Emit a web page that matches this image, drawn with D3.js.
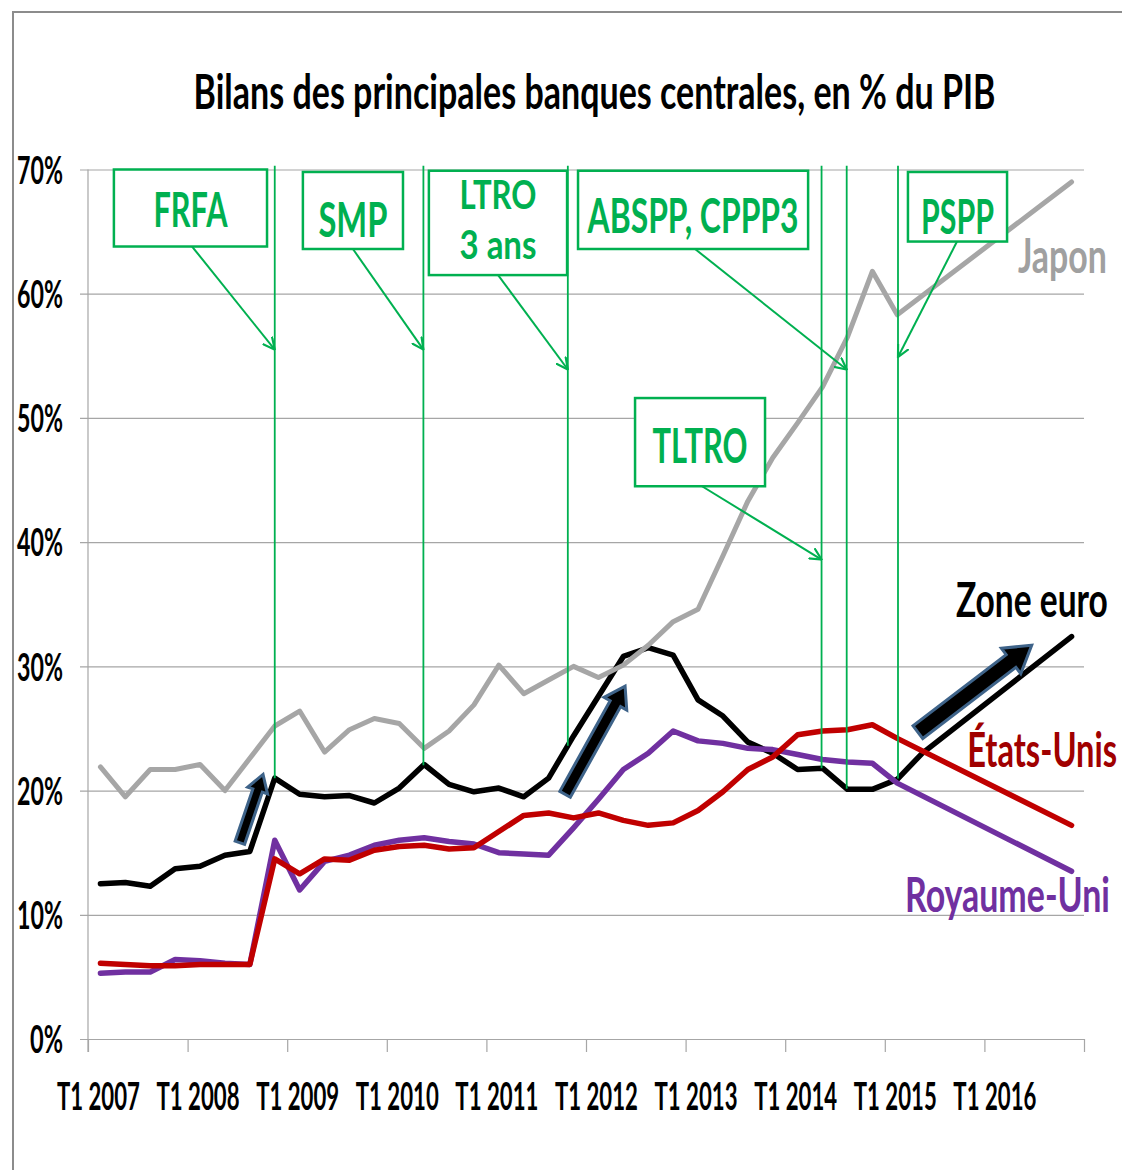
<!DOCTYPE html>
<html>
<head>
<meta charset="utf-8">
<script src="https://cdn.jsdelivr.net/npm/d3@7"></script>
<style>
	body { margin: 0; background: #fff; }
	svg { display: block; font-family: Lato, "Open Sans", sans-serif; font-weight: 700; }
</style>
</head>
<body>
<svg id="chart"></svg>
<script>
// chart size and plot area
const width = 1122, height = 1170;
const plotLeft = 88, plotRight = 1084, plotTop = 169.5, plotBottom = 1039;
const green = "#00B050";

// categories: one per quarter, T1 2007 .. T4 2016
const years = [2007, 2008, 2009, 2010, 2011, 2012, 2013, 2014, 2015, 2016];
const quarters = years.flatMap(yr => ["T1", "T2", "T3", "T4"].map(q => `${q} ${yr}`));
const xTickLabels = ["T1 2007", "T1 2008", "T1 2009", "T1 2010", "T1 2011", "T1 2012", "T1 2013", "T1 2014", "T1 2015", "T1 2016"];
const yTicks = [0, 10, 20, 30, 40, 50, 60, 70];

// balance sheets in % of GDP, null = no point (the line joins across, like the original)
const zoneEuro = [12.5, 12.6, 12.3, 13.7, 13.9, 14.8, 15.1, 21.0, 19.7, 19.5, 19.6, 19.0,
	20.2, 22.1, 20.5, 19.9, 20.2, 19.5, 21.0, 24.4, 27.6, 30.8, 31.5, 30.9,
	27.3, 26.0, 23.9, 23.0, 21.7, 21.8, 20.1, 20.1, 20.9, 23.0, null, null,
	null, null, null, 32.4];
const royaumeUni = [5.3, 5.4, 5.4, 6.4, 6.3, 6.1, 6.0, 16.0, 12.0, 14.3, 14.8, 15.6,
	16.0, 16.2, 15.9, 15.7, 15.0, 14.9, 14.8, 17.0, 19.3, 21.7, 23.0, 24.8,
	24.0, 23.8, 23.4, 23.3, 22.9, 22.5, 22.3, 22.2, 20.6, null, null, null,
	null, null, null, 13.5];
const etatsUnis = [6.1, 6.0, 5.9, 5.9, 6.0, 6.0, 6.0, 14.5, 13.3, 14.5, 14.4, 15.2,
	15.5, 15.6, 15.3, 15.4, 16.7, 18.0, 18.2, 17.8, 18.2, 17.6, 17.2, 17.4,
	18.4, 19.9, 21.7, 22.7, 24.5, 24.8, 24.9, 25.3, 24.2, null, null, null,
	null, null, null, 17.2];
const japon = [21.9, 19.5, 21.7, 21.7, 22.1, 20.0, 22.6, 25.2, 26.4, 23.1, 24.9, 25.8,
	25.4, 23.4, 24.8, 26.9, 30.1, 27.8, 28.9, 30.0, 29.1, 30.1, 31.7, 33.6,
	34.6, 38.9, 43.3, 46.8, 49.6, 52.5, 56.5, 61.8, 58.3, null, null, null,
	null, null, null, 69.0];

// drawing order: later series on top
const series = [
	{ name: "Zone euro", values: zoneEuro, color: "#000000", labelColor: "#000000", lw: 5.5, labelAt: [40.46, 34.0], labelW: 152 },
	{ name: "Royaume-Uni", values: royaumeUni, color: "#7030A0", labelColor: "#7030A0", lw: 5.5, labelAt: [40.54, 10.2], labelW: 205 },
	{ name: "États-Unis", values: etatsUnis, color: "#C00000", labelColor: "#A00000", lw: 5.5, labelAt: [40.83, 21.9], labelW: 150 },
	{ name: "Japon", values: japon, color: "#A6A6A6", labelColor: "#A0A0A0", lw: 5, labelAt: [40.42, 61.7], labelW: 89 }
];

// ECB measures: position in quarters, boxes in (quarter, %) units
const events = [
	{ lines: ["FRFA"], at: 7.0, box: [0.54, 6.69, 70.0, 63.8], base: [65.4], tw: [74], fs: 48, from: 3.68, tip: 55.5 },
	{ lines: ["SMP"], at: 12.97, box: [8.13, 12.15, 69.8, 63.6], base: [64.6], tw: [69], fs: 48, from: 10.14, tip: 55.5 },
	{ lines: ["LTRO", "3 ans"], at: 18.77, box: [13.19, 18.74, 69.9, 61.5], base: [66.8, 62.8], tw: [77, 77], fs: 41, from: 15.97, tip: 53.9 },
	{ lines: ["ABSPP, CPPP3"], at: 29.97, box: [19.18, 28.42, 69.9, 63.6], base: [64.9], tw: [211], fs: 48, from: 23.88, tip: 53.9 },
	{ lines: ["TLTRO"], at: 28.96, box: [21.47, 26.69, 51.6, 44.5], base: [46.4], tw: [95], fs: 48, from: 24.16, tip: 38.6 },
	{ lines: ["PSPP"], at: 32.03, box: [32.43, 36.41, 69.8, 64.2], base: [64.8], tw: [73], fs: 48, from: 34.40, tip: 54.9 }
];

// big blue-outlined arrows: tail and tip in (quarter, %)
const blockArrows = [
	{ tail: [5.60, 15.8], tip: [6.53, 21.3], body: 10, head: 21, headLen: 17 },
	{ tail: [18.66, 19.7], tip: [21.07, 28.4], body: 12, head: 26, headLen: 20 },
	{ tail: [32.83, 24.7], tip: [37.40, 31.7], body: 16, head: 32, headLen: 26 }
];

// narrow a text horizontally to width w (the original lettering is condensed)
function squeeze(sel, w) {
	sel.each(function () {
		const t = d3.select(this);
		const nat = this.getComputedTextLength();
		const tx = +t.attr("x") || 0, ty = +t.attr("y") || 0;
		t.attr("x", 0).attr("y", 0)
			.attr("transform", `translate(${tx},${ty}) scale(${w / nat},1)`);
	});
}

const x = d3.scaleLinear([-0.5, quarters.length - 0.5], [plotLeft, plotRight]);
const y = d3.scaleLinear([0, 70], [plotBottom, plotTop]);

const svg = d3.select("#chart")
	.attr("width", width)
	.attr("height", height)
	.attr("viewBox", [0, 0, width, height]);

svg.append("rect").attr("width", width).attr("height", height).attr("fill", "#fff");

// frame of the chart object (top and left edges visible)
svg.append("path")
	.attr("d", `M13,${height} V12 H${width}`)
	.attr("fill", "none")
	.attr("stroke", "#8c8c8c")
	.attr("stroke-width", 2);

// title
svg.append("text")
	.attr("x", 594.5)
	.attr("y", 109)
	.attr("text-anchor", "middle")
	.attr("font-size", 48)
	.attr("fill", "#000")
	.text("Bilans des principales banques centrales, en % du PIB")
	.call(squeeze, 802);

// y axis with gridlines
svg.append("g")
	.attr("transform", `translate(${plotRight},0)`)
	.call(d3.axisLeft(y).tickValues(yTicks).tickSize(plotRight - plotLeft + 8).tickPadding(17).tickFormat(d => d + "%"))
	.call(g => g.select(".domain").remove())
	.call(g => g.selectAll(".tick line").attr("stroke", "#a6a6a6").attr("stroke-width", 1.2))
	.call(g => g.selectAll(".tick text")
		.attr("font-family", "Lato, 'Open Sans', sans-serif")
		.attr("font-weight", 700)
		.attr("font-size", 38)
		.attr("fill", "#000")
		.attr("dy", "0.36em")
		.each(function (d) { d3.select(this).call(squeeze, String(d).length === 1 ? 33 : 46); }));

// y axis line
svg.append("line")
	.attr("x1", plotLeft).attr("x2", plotLeft)
	.attr("y1", plotTop).attr("y2", plotBottom + 13)
	.attr("stroke", "#a6a6a6")
	.attr("stroke-width", 1.2);

// x axis: ticks between years
svg.append("g")
	.attr("transform", `translate(0,${plotBottom})`)
	.call(d3.axisBottom(x).tickValues(d3.range(-0.5, quarters.length, 4)).tickSize(13).tickSizeOuter(0).tickFormat(""))
	.call(g => g.select(".domain").attr("stroke", "#a6a6a6").attr("stroke-width", 1.2))
	.call(g => g.selectAll(".tick line").attr("stroke", "#a6a6a6").attr("stroke-width", 1.2));

svg.append("g")
	.selectAll("text")
	.data(xTickLabels)
	.join("text")
	.attr("x", d => x(quarters.indexOf(d)) - 2)
	.attr("y", plotBottom + 71)
	.attr("text-anchor", "middle")
	.attr("font-size", 39)
	.attr("fill", "#000")
	.text(d => d)
	.each(function () { d3.select(this).call(squeeze, 83); });

// series lines
const line = d3.line()
	.x(d => x(d[0]))
	.y(d => y(d[1]));

svg.append("g")
	.selectAll("path")
	.data(series)
	.join("path")
	.attr("fill", "none")
	.attr("stroke", s => s.color)
	.attr("stroke-width", s => s.lw)
	.attr("stroke-linejoin", "round")
	.attr("stroke-linecap", "round")
	.attr("d", s => line(s.values.map((v, i) => [i, v]).filter(d => d[1] != null)));

// series labels
svg.append("g")
	.selectAll("text")
	.data(series)
	.join("text")
	.attr("x", s => x(s.labelAt[0]))
	.attr("y", s => y(s.labelAt[1]))
	.attr("text-anchor", "end")
	.attr("font-size", 47)
	.attr("fill", s => s.labelColor)
	.text(s => s.name)
	.each(function (s) { d3.select(this).call(squeeze, s.labelW); });

// value of the euro line at a fractional quarter, for the green markers
const euroPts = zoneEuro.map((v, i) => [i, v]).filter(d => d[1] != null);
function euroAt(q) {
	for (let k = 1; k < euroPts.length; k++) {
		const [x0, y0] = euroPts[k - 1], [x1, y1] = euroPts[k];
		if (q <= x1) return y0 + (y1 - y0) * (q - x0) / (x1 - x0);
	}
	return euroPts[euroPts.length - 1][1];
}

// green measure lines, boxes and pointers
svg.append("defs").append("marker")
	.attr("id", "open-head")
	.attr("viewBox", "0 0 12 12")
	.attr("refX", 11)
	.attr("refY", 6)
	.attr("markerWidth", 13)
	.attr("markerHeight", 13)
	.attr("markerUnits", "userSpaceOnUse")
	.attr("orient", "auto")
	.append("path")
	.attr("d", "M0,0.5 L11,6 L0,11.5")
	.attr("fill", "none")
	.attr("stroke", green)
	.attr("stroke-width", 2);

const ev = svg.append("g");

ev.selectAll("line.measure")
	.data(events)
	.join("line")
	.attr("class", "measure")
	.attr("x1", d => x(d.at)).attr("x2", d => x(d.at))
	.attr("y1", y(70.3))
	.attr("y2", d => y(euroAt(d.at)))
	.attr("stroke", green)
	.attr("stroke-width", 1.8);

ev.selectAll("rect")
	.data(events)
	.join("rect")
	.attr("x", d => x(d.box[0]))
	.attr("y", d => y(d.box[2]))
	.attr("width", d => x(d.box[1]) - x(d.box[0]))
	.attr("height", d => y(d.box[3]) - y(d.box[2]))
	.attr("fill", "#fff")
	.attr("stroke", green)
	.attr("stroke-width", 2.5);

ev.selectAll("line.pointer")
	.data(events)
	.join("line")
	.attr("class", "pointer")
	.attr("x1", d => x(d.from))
	.attr("y1", d => y(d.box[3]))
	.attr("x2", d => x(d.at))
	.attr("y2", d => y(d.tip))
	.attr("stroke", green)
	.attr("stroke-width", 2)
	.attr("marker-end", "url(#open-head)");

ev.selectAll("g.label")
	.data(events)
	.join("g")
	.attr("class", "label")
	.each(function (d) {
		const cx = x((d.box[0] + d.box[1]) / 2);
		d3.select(this).selectAll("text")
			.data(d.lines)
			.join("text")
			.attr("x", cx)
			.attr("y", (t, k) => y(d.base[k]))
			.attr("text-anchor", "middle")
			.attr("font-size", d.fs)
			.attr("fill", green)
			.text(t => t)
			.each(function (t, k) { d3.select(this).call(squeeze, d.tw[k]); });
	});

// block arrows
function arrowPoints(a) {
	const p0 = [x(a.tail[0]), y(a.tail[1])], p1 = [x(a.tip[0]), y(a.tip[1])];
	const len = Math.hypot(p1[0] - p0[0], p1[1] - p0[1]);
	const u = [(p1[0] - p0[0]) / len, (p1[1] - p0[1]) / len];
	const n = [-u[1], u[0]];
	const hb = [p1[0] - u[0] * a.headLen, p1[1] - u[1] * a.headLen];
	const off = (p, w) => [p[0] + n[0] * w, p[1] + n[1] * w];
	return [off(p0, a.body / 2), off(hb, a.body / 2), off(hb, a.head / 2), p1,
		off(hb, -a.head / 2), off(hb, -a.body / 2), off(p0, -a.body / 2)];
}

svg.append("g")
	.selectAll("polygon")
	.data(blockArrows)
	.join("polygon")
	.attr("points", d => arrowPoints(d).map(p => p.join(",")).join(" "))
	.attr("fill", "#000")
	.attr("stroke", "#3E6389")
	.attr("stroke-width", 3)
	.attr("stroke-linejoin", "miter");
</script>
</body>
</html>
